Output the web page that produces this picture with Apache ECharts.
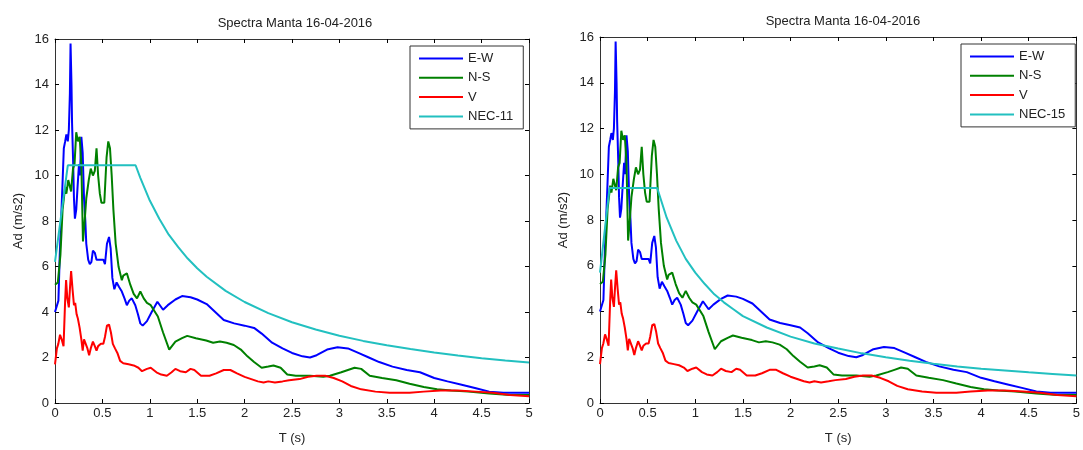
<!DOCTYPE html>
<html>
<head>
<meta charset="utf-8">
<script src="https://cdn.jsdelivr.net/npm/echarts@6/dist/echarts.min.js"></script>
<style>
html, body { margin: 0; padding: 0; background: #fff; }
#chart { width: 1083px; height: 450px; }
</style>
</head>
<body>
<div id="chart"></div>
<script>
// periods (s) and spectral values (m/s2)
var ewT = [0,0.02,0.036,0.05,0.064,0.078,0.093,0.107,0.12,0.135,0.146,0.157,0.164,0.174,0.18,0.192,0.2,0.21,0.224,0.238,0.253,0.263,0.278,0.292,0.306,0.32,0.33,0.35,0.367,0.384,0.4,0.42,0.438,0.473,0.51,0.527,0.548,0.57,0.587,0.605,0.626,0.65,0.676,0.705,0.733,0.758,0.783,0.81,0.847,0.875,0.9,0.925,0.97,1.02,1.08,1.14,1.19,1.27,1.34,1.43,1.5,1.6,1.69,1.78,1.89,2.0,2.1,2.18,2.29,2.4,2.5,2.61,2.69,2.76,2.87,2.98,3.09,3.2,3.31,3.42,3.56,3.71,3.85,4.0,4.14,4.29,4.44,4.58,4.73,5.0];
var ewA = [4.0,4.0,4.5,6.5,8.0,9.5,11.2,11.5,11.8,11.5,12.0,13.6,15.8,14.0,12.3,10.5,9.0,8.1,8.5,9.5,10.5,10.0,11.7,11.0,9.0,8.0,7.0,6.3,6.1,6.2,6.7,6.6,6.3,6.3,6.3,6.1,7.0,7.3,6.8,5.5,5.0,5.3,5.1,4.9,4.6,4.3,4.5,4.6,4.3,3.9,3.5,3.4,3.6,4.0,4.45,4.1,4.3,4.55,4.7,4.65,4.55,4.35,4.0,3.65,3.5,3.4,3.3,3.05,2.65,2.4,2.2,2.05,2.0,2.1,2.35,2.45,2.4,2.2,2.0,1.8,1.6,1.45,1.35,1.1,0.95,0.8,0.65,0.5,0.45,0.45];

var nsT = [0,0.03,0.057,0.08,0.107,0.12,0.14,0.153,0.17,0.19,0.206,0.224,0.242,0.26,0.278,0.288,0.295,0.313,0.33,0.356,0.377,0.4,0.42,0.438,0.455,0.473,0.49,0.52,0.544,0.562,0.58,0.598,0.616,0.64,0.67,0.705,0.72,0.758,0.794,0.83,0.865,0.9,0.936,0.97,1.01,1.085,1.14,1.205,1.27,1.34,1.395,1.486,1.595,1.668,1.74,1.81,1.886,1.96,2.03,2.1,2.18,2.25,2.305,2.38,2.45,2.54,2.69,2.83,2.9,3.02,3.09,3.16,3.23,3.32,3.45,3.6,3.74,3.89,4.03,4.18,4.36,4.58,4.8,5.0];
var nsA = [5.2,5.3,6.5,8.5,9.5,9.2,9.8,9.8,9.3,10.3,10.5,11.9,11.5,11.7,10.5,8.5,7.1,8.0,9.0,9.8,10.3,10.0,10.2,11.2,10.0,9.2,8.8,8.8,10.8,11.5,11.2,10.0,8.5,7.0,6.0,5.4,5.6,5.7,5.2,4.8,4.6,4.9,4.6,4.4,4.3,3.8,3.1,2.35,2.7,2.85,2.95,2.85,2.75,2.65,2.7,2.65,2.55,2.35,2.05,1.8,1.55,1.6,1.65,1.55,1.25,1.2,1.2,1.15,1.2,1.35,1.45,1.55,1.5,1.2,1.1,1.0,0.85,0.7,0.6,0.55,0.5,0.42,0.35,0.35];

var vT = [0,0.02,0.035,0.053,0.07,0.09,0.107,0.117,0.13,0.146,0.16,0.17,0.185,0.2,0.213,0.228,0.242,0.26,0.278,0.292,0.306,0.324,0.342,0.36,0.377,0.4,0.42,0.438,0.455,0.484,0.51,0.527,0.548,0.57,0.59,0.61,0.633,0.658,0.687,0.72,0.776,0.83,0.88,0.918,0.97,1.01,1.07,1.12,1.18,1.23,1.27,1.32,1.38,1.43,1.47,1.54,1.63,1.7,1.78,1.85,1.92,2.0,2.07,2.14,2.2,2.25,2.32,2.4,2.47,2.58,2.67,2.76,2.85,2.94,3.03,3.12,3.23,3.38,3.53,3.74,3.89,4.07,4.25,4.44,4.62,4.8,5.0];
var vA = [1.7,2.4,2.6,3.0,2.8,2.5,4.5,5.4,4.6,4.2,5.2,5.8,5.0,4.3,4.4,3.9,3.7,3.3,2.8,2.3,2.8,2.8,2.4,2.1,2.4,2.7,2.5,2.3,2.5,2.6,2.6,2.9,3.4,3.45,3.1,2.6,2.4,2.2,1.85,1.75,1.7,1.65,1.55,1.4,1.5,1.55,1.35,1.25,1.2,1.35,1.5,1.4,1.35,1.5,1.45,1.2,1.2,1.3,1.45,1.45,1.3,1.15,1.05,0.95,0.9,0.95,0.9,0.95,1.0,1.05,1.15,1.2,1.2,1.1,0.95,0.75,0.6,0.5,0.45,0.45,0.5,0.55,0.55,0.5,0.45,0.35,0.3];

var nec11T = [0,0.135,0.85,0.9,1.0,1.1,1.2,1.3,1.4,1.5,1.6,1.8,2.0,2.25,2.5,2.75,3.0,3.25,3.5,3.75,4.0,4.25,4.5,4.75,5.0];
var nec11A = [6.2,10.45,10.45,9.9,8.9,8.1,7.4,6.85,6.35,5.92,5.55,4.93,4.44,3.95,3.55,3.23,2.96,2.73,2.54,2.37,2.22,2.09,1.97,1.87,1.78];

var nec15T = [0,0.1,0.6,0.7,0.8,0.9,1.0,1.1,1.2,1.3,1.4,1.5,1.75,2.0,2.25,2.5,2.75,3.0,3.25,3.5,3.75,4.0,4.25,4.5,4.75,5.0];
var nec15A = [5.7,9.4,9.4,8.1,7.1,6.3,5.7,5.2,4.75,4.4,4.1,3.8,3.3,2.9,2.6,2.38,2.17,2.0,1.85,1.72,1.6,1.5,1.42,1.34,1.27,1.2];

var chartTitle = 'Spectra Manta 16-04-2016';
var FONT = 'Liberation Sans, Arial, sans-serif';
var TXT = '#222';

function pairs(t, a){
	var out = [];
	for (var i = 0; i < t.length; i++) {
		out.push([t[i], a[i]]);
	}
	return out;
}

var chart = echarts.init(document.getElementById('chart'), null, {renderer: 'canvas'});

var grids = [
	{left: 55, top: 39, width: 474, height: 374},
	{left: 600, top: 37, width: 480, height: 378}
];

function xAx(g, bottom){
	return {
		type: 'value', gridIndex: g, min: 0, max: 5, interval: 0.5,
		position: bottom ? 'bottom' : 'top',
		name: bottom ? 'T (s)' : '', nameLocation: 'middle', nameGap: 29,
		nameTextStyle: {color: TXT, fontSize: 13, fontFamily: FONT},
		axisLine: {show: true, onZero: false, lineStyle: {color: '#333', width: 1}},
		axisTick: {show: true, inside: true, length: 4, lineStyle: {color: '#000'}},
		axisLabel: {show: bottom, color: TXT, fontSize: 13, fontFamily: FONT, margin: 4},
		splitLine: {show: false}
	};
}
function yAx(g, left){
	return {
		type: 'value', gridIndex: g, min: 0, max: 16, interval: 2,
		position: left ? 'left' : 'right',
		name: left ? 'Ad (m/s2)' : '', nameLocation: 'middle', nameGap: 30,
		nameTextStyle: {color: TXT, fontSize: 13, fontFamily: FONT},
		axisLine: {show: true, onZero: false, lineStyle: {color: '#333', width: 1}},
		axisTick: {show: true, inside: true, length: 4, lineStyle: {color: '#000'}},
		axisLabel: {show: left, color: TXT, fontSize: 13, fontFamily: FONT, margin: 6},
		splitLine: {show: false}
	};
}

function line(name, data, color, g){
	return {
		name: name, type: 'line', xAxisIndex: g * 2, yAxisIndex: g * 2,
		data: data, showSymbol: false, symbol: 'none', clip: true,
		lineStyle: {color: color, width: 2}, itemStyle: {color: color},
		animation: false
	};
}

function legendAt(left, top, names){
	return {
		orient: 'vertical', left: left, top: top,
		data: names, selectedMode: false,
		itemWidth: 44, itemHeight: 14, itemGap: 6.3,
		padding: [6, 10, 6, 8],
		backgroundColor: '#fff', borderColor: '#333', borderWidth: 1, borderRadius: 0,
		itemStyle: {opacity: 0},
		lineStyle: {width: 2},
		textStyle: {color: TXT, fontSize: 13, fontFamily: FONT}
	};
}

var ew = pairs(ewT, ewA), ns = pairs(nsT, nsA), vv = pairs(vT, vA);

option = {
	backgroundColor: '#fff',
	animation: false,
	title: [
		{text: chartTitle, left: 290, top: 12, textAlign: 'center',
			textStyle: {color: TXT, fontSize: 13, fontWeight: 'normal', fontFamily: FONT}},
		{text: chartTitle, left: 838, top: 10, textAlign: 'center',
			textStyle: {color: TXT, fontSize: 13, fontWeight: 'normal', fontFamily: FONT}}
	],
	legend: [
		legendAt(410, 46, ['E-W', 'N-S', 'V', 'NEC-11']),
		legendAt(961, 44, ['E-W', 'N-S', 'V', 'NEC-15'])
	],
	grid: grids,
	xAxis: [xAx(0, true), xAx(0, false), xAx(1, true), xAx(1, false)],
	yAxis: [yAx(0, true), yAx(0, false), yAx(1, true), yAx(1, false)],
	series: [
		line('E-W', ew, '#0000ff', 0),
		line('N-S', ns, '#008000', 0),
		line('V', vv, '#ff0000', 0),
		line('NEC-11', pairs(nec11T, nec11A), '#22c0c0', 0),
		line('E-W', ew, '#0000ff', 1),
		line('N-S', ns, '#008000', 1),
		line('V', vv, '#ff0000', 1),
		line('NEC-15', pairs(nec15T, nec15A), '#22c0c0', 1)
	]
};

chart.setOption(option);
</script>
</body>
</html>
